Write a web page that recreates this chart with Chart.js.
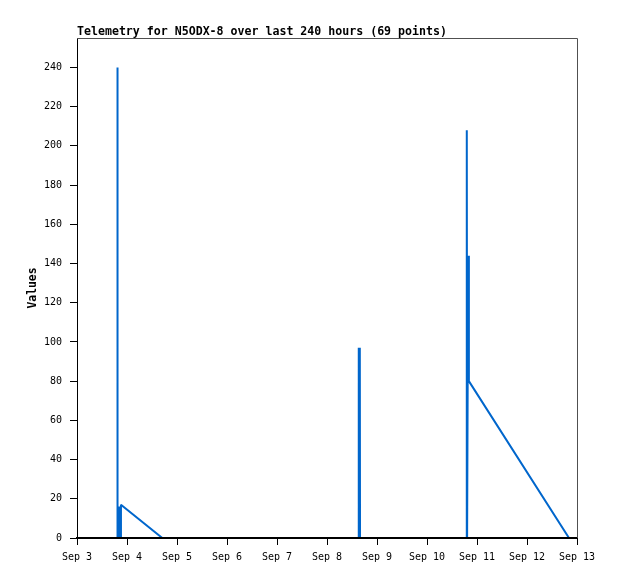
<!DOCTYPE html>
<html>
<head>
<meta charset="utf-8">
<title>Telemetry for N5ODX-8</title>
<script src="https://cdn.jsdelivr.net/npm/chart.js@4.4.1/dist/chart.umd.min.js"></script>
<style>
    html, body { margin: 0; padding: 0; background: #ffffff; }
    #chart { display: block; }
</style>
</head>
<body>
<canvas id="chart" width="618" height="579"></canvas>
<script>
// Hours since Sep 3 00:00 (window = last 240 hours)
const hours = [
    19.3, 19.4, 19.5, 19.8, 20.1, 20.4, 20.7, 21.1, 40.94,
    52, 64, 76, 88, 100, 112, 124,
    135.15, 135.25, 135.5, 135.75, 135.85,
    148, 160, 172,
    187.0, 187.1, 187.25, 187.75, 188.1, 236.16, 239.5
];
const values = [
    0, 240, 0, 16, 0, 16, 0, 17, 0,
    0, 0, 0, 0, 0, 0, 0,
    0, 97, 0, 97, 0,
    0, 0, 0,
    0, 208, 0, 144, 80, 0, 0
];
const yTicks = [0, 20, 40, 60, 80, 100, 120, 140, 160, 180, 200, 220, 240];
const dayLabels = ['Sep 3', 'Sep 4', 'Sep 5', 'Sep 6', 'Sep 7', 'Sep 8', 'Sep 9', 'Sep 10', 'Sep 11', 'Sep 12', 'Sep 13'];

const titleText = 'Telemetry for N5ODX-8 over last 240 hours (69 points)';
const mono = "'DejaVu Sans Mono', 'Liberation Mono', monospace";

// Title at the plot's left edge plus gray top/right frame, like gnuplot output
const framePlugin = {
    id: 'frame',
    afterDraw(chart) {
        const { ctx, chartArea: a } = chart;
        ctx.save();
        ctx.strokeStyle = '#505050';
        ctx.lineWidth = 1;
        ctx.beginPath();
        ctx.moveTo(a.left, a.top + 0.5);
        ctx.lineTo(a.right + 0.5, a.top + 0.5);
        ctx.lineTo(a.right + 0.5, a.bottom);
        ctx.stroke();
        ctx.fillStyle = '#000000';
        ctx.font = 'bold 11.6px ' + mono;
        ctx.textBaseline = 'alphabetic';
        ctx.textAlign = 'left';
        ctx.fillText(titleText, a.left, 35);
        ctx.restore();
    }
};

const points = hours.map((h, i) => ({ x: h, y: values[i] }));

new Chart(document.getElementById('chart').getContext('2d'), {
    type: 'line',
    data: {
        datasets: [{
            label: 'Values',
            data: points,
            borderColor: 'rgb(0, 102, 204)',
            borderWidth: 2,
            borderJoinStyle: 'bevel',
            borderCapStyle: 'butt',
            pointRadius: 0,
            tension: 0,
            fill: false
        }]
    },
    options: {
        responsive: false,
        animation: false,
        layout: { padding: { top: 38, right: 41, left: 0, bottom: 0 } },
        plugins: {
            legend: { display: false },
            tooltip: { enabled: false },
            title: { display: false }
        },
        scales: {
            x: {
                type: 'linear',
                min: 0,
                max: 240,
                grid: { drawOnChartArea: false, drawTicks: true, tickLength: 7, color: '#000000' },
                border: { color: '#000000', width: 2, z: 1 },
                ticks: {
                    stepSize: 24,
                    color: '#000000',
                    font: { family: mono, size: 10 },
                    padding: 6,
                    maxRotation: 0,
                    autoSkip: false,
                    callback: (v) => dayLabels[Math.round(v / 24)]
                },
                afterFit: (scale) => { scale.height = 41; }
            },
            y: {
                min: 0,
                max: 255,
                grid: { drawOnChartArea: false, drawTicks: true, tickLength: 7, color: '#000000' },
                border: { color: '#000000', width: 1 },
                ticks: {
                    color: '#000000',
                    font: { family: mono, size: 10 },
                    padding: 8
                },
                afterBuildTicks: (scale) => { scale.ticks = yTicks.map(v => ({ value: v })); },
                title: {
                    display: true,
                    text: 'Values',
                    color: '#000000',
                    font: { family: mono, size: 11.4, weight: 'bold' },
                    padding: { top: 26, bottom: 0 }
                },
                afterFit: (scale) => { scale.width = 77; }
            }
        }
    },
    plugins: [framePlugin]
});
</script>
</body>
</html>
